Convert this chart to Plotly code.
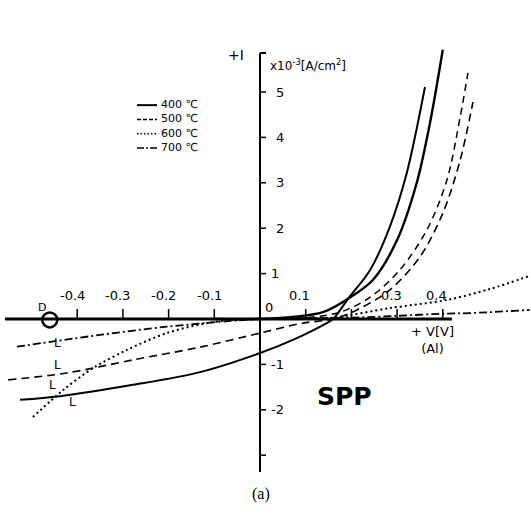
import plotly.graph_objects as go

# ---------------- data (V in volts, I in 1e-3 A/cm^2) ----------------
V_400 = [-0.525, -0.438, -0.278, -0.131, 0.0, 0.072, 0.146, 0.16, 0.193, 0.241, 0.284, 0.321, 0.361]
I_400 = [-1.78, -1.70, -1.45, -1.17, -0.75, -0.46, -0.09, 0.0, 0.45, 1.08, 2.03, 3.21, 5.11]
V_400b = [-0.1, 0.0, 0.066, 0.138, 0.193, 0.247, 0.30, 0.343, 0.372, 0.40]
I_400b = [0.0, 0.0, 0.04, 0.15, 0.45, 0.86, 1.74, 3.0, 4.32, 5.93]

V_500 = [-0.551, -0.423, -0.278, -0.131, 0.0, 0.094, 0.16, 0.212, 0.284, 0.35, 0.40, 0.438, 0.466]
I_500 = [-1.34, -1.19, -0.90, -0.62, -0.31, -0.09, 0.0, 0.2, 0.64, 1.37, 2.33, 3.5, 4.78]
V_500b = [0.0, 0.1, 0.175, 0.241, 0.306, 0.365, 0.409, 0.438, 0.455]
I_500b = [0.0, 0.03, 0.15, 0.48, 1.08, 1.96, 3.06, 4.45, 5.42]

V_600 = [-0.497, -0.43, -0.365, -0.291, -0.204, -0.116, -0.03, 0.08, 0.16, 0.284, 0.409, 0.503, 0.59]
I_600 = [-2.16, -1.56, -1.08, -0.68, -0.31, -0.09, 0.0, 0.0, 0.03, 0.24, 0.42, 0.66, 0.95]

V_700 = [-0.532, -0.35, -0.204, -0.06, 0.0, 0.2, 0.3, 0.41, 0.46, 0.59]
I_700 = [-0.61, -0.35, -0.17, -0.04, 0.0, 0.03, 0.07, 0.12, 0.13, 0.2]

X_TICKS = [-0.4, -0.3, -0.2, -0.1, 0.1, 0.2, 0.3, 0.4]
X_TICK_LABELS = ["-0.4", "-0.3", "-0.2", "-0.1", "0.1", "", "0.3", "0.4"]
Y_TICKS = [5, 4, 3, 2, 1, -1, -2, -3]
Y_TICK_LABELS = ["5", "4", "3", "2", "1", "-1", "-2", ""]
X_AXIS_EXTENT = [-0.558, 0.42]
Y_AXIS_EXTENT = [-3.37, 5.86]

LEGEND_NAMES = ["400 ℃", "500 ℃", "600 ℃", "700 ℃"]

MARK_D = (-0.46, -0.02)
L_MARKS_V = [-0.444, -0.444, -0.453, -0.411]
L_MARKS_I = [-0.53, -1.01, -1.45, -1.83]

# ---------------- figure ----------------
W, H = 531, 520
PX0, PY0, SX, SY = 260, 319, 457.0, 45.4  # pixel position of origin and pixels per unit
FONT = "DejaVu Sans"
INK = "black"

fig = go.Figure()

def curve(v, i, dash, width, name):
    fig.add_trace(go.Scatter(x=v, y=i, mode="lines", name=name, showlegend=False,
                             line=dict(color=INK, dash=dash, width=width, shape="spline", smoothing=0.9),
                             hoverinfo="skip"))

curve(V_400, I_400, "solid", 2.0, "400℃")
curve(V_400b, I_400b, "solid", 2.4, "400℃ (b)")
curve(V_500, I_500, "8px,5px", 1.6, "500℃")
curve(V_500b, I_500b, "7px,5px", 1.5, "500℃ (b)")
curve(V_600, I_600, "2px,3px", 2.0, "600℃")
curve(V_700, I_700, "8px,3px,2px,3px", 1.8, "700℃")

# circle mark on the axis
fig.add_trace(go.Scatter(x=[MARK_D[0]], y=[MARK_D[1]], mode="markers", showlegend=False,
                         marker=dict(symbol="circle-open", size=15, color=INK, line=dict(width=2.5)),
                         hoverinfo="skip"))

shapes = []
# axes lines in data coordinates
shapes.append(dict(type="line", xref="x", yref="y", x0=X_AXIS_EXTENT[0], x1=X_AXIS_EXTENT[1], y0=0, y1=0,
                   line=dict(color=INK, width=3)))
shapes.append(dict(type="line", xref="x", yref="y", x0=0, x1=0, y0=Y_AXIS_EXTENT[0], y1=Y_AXIS_EXTENT[1],
                   line=dict(color=INK, width=2)))
# top bracket of y axis
shapes.append(dict(type="line", xref="x", yref="y", xsizemode="pixel", xanchor=0, x0=0, x1=6,
                   y0=Y_AXIS_EXTENT[1], y1=Y_AXIS_EXTENT[1], line=dict(color=INK, width=2)))
# x ticks (upward)
for t in X_TICKS:
    shapes.append(dict(type="line", xref="x", yref="y", ysizemode="pixel", yanchor=0, y0=0, y1=10,
                       x0=t, x1=t, line=dict(color=INK, width=1.5)))
# y ticks (to the right)
for t in Y_TICKS:
    shapes.append(dict(type="line", xref="x", yref="y", xsizemode="pixel", xanchor=0, x0=0, x1=6,
                       y0=t, y1=t, line=dict(color=INK, width=1.5)))

# manual legend: line samples (paper coords) + one multi-line text block
LEG_TOP, LEG_SIZE = 97, 11
row_h = LEG_SIZE * 1.3
leg_dash = ["solid", "4px,2px", "1.5px,2px", "7px,2px,2px,2px"]
for k, d in enumerate(leg_dash):
    yy = LEG_TOP + row_h * (k + 0.5) + 1
    shapes.append(dict(type="line", xref="paper", yref="paper", x0=137 / W, x1=157 / W,
                       y0=1 - yy / H, y1=1 - yy / H,
                       line=dict(color=INK, width=2 if d == "solid" else 1.5, dash=d)))

txt = dict(family=FONT, color=INK)
ann = []
for t, lab in zip(X_TICKS, X_TICK_LABELS):
    if lab:
        ann.append(dict(x=t, y=0, xref="x", yref="y", text=lab, showarrow=False,
                        xshift=-5 if t < 0 else -6, yshift=24, font=dict(size=13, **txt)))
for t, lab in zip(Y_TICKS, Y_TICK_LABELS):
    if lab:
        ann.append(dict(x=0, y=t, xref="x", yref="y", text=lab, showarrow=False, xanchor="left",
                        xshift=14 if t > 1 else 9, font=dict(size=13, **txt)))
ann.append(dict(x=0, y=0, xref="x", yref="y", text="0", showarrow=False, xshift=9, yshift=12,
                font=dict(size=13, **txt)))
ann.append(dict(x=0, y=Y_AXIS_EXTENT[1], xref="x", yref="y", text="+I", showarrow=False, xanchor="right",
                xshift=-14, yshift=-2, font=dict(size=14, **txt)))
ann.append(dict(x=0, y=Y_AXIS_EXTENT[1], xref="x", yref="y", text="x10<sup>-3</sup>[A/cm<sup>2</sup>]",
                showarrow=False, xanchor="left", xshift=8, yshift=-12, font=dict(size=12, **txt)))
ann.append(dict(x=X_AXIS_EXTENT[1], y=0, xref="x", yref="y", text="+ V[V]<br>(Al)", showarrow=False,
                xanchor="right", yanchor="top", xshift=4, yshift=-3, align="center",
                font=dict(size=13, **txt)))
ann.append(dict(x=(344 - PX0) / SX, y=(PY0 - 396) / SY, xref="x", yref="y", text="<b>SPP</b>", showarrow=False,
                font=dict(size=25, **txt)))
ann.append(dict(x=261 / W, y=1 - 505 / H, xref="paper", yref="paper", text="(a)", showarrow=False,
                font=dict(size=16, family="Liberation Serif", color=INK)))
ann.append(dict(x=MARK_D[0], y=MARK_D[1], xref="x", yref="y", text="D", showarrow=False,
                xshift=-8, yshift=12, font=dict(size=11, **txt)))
for v, i in zip(L_MARKS_V, L_MARKS_I):
    ann.append(dict(x=v, y=i, xref="x", yref="y", text="L", showarrow=False, font=dict(size=12, **txt)))
ann.append(dict(x=160 / W, y=1 - LEG_TOP / H, xref="paper", yref="paper", text="<br>".join(LEGEND_NAMES),
                showarrow=False, xanchor="left", yanchor="top", align="left", borderpad=0,
                font=dict(size=LEG_SIZE, **txt)))

fig.update_layout(
    width=W, height=H, margin=dict(l=0, r=0, t=0, b=0, pad=0),
    paper_bgcolor="white", plot_bgcolor="white",
    xaxis=dict(range=[(0 - PX0) / SX, (W - PX0) / SX], visible=False, fixedrange=True),
    yaxis=dict(range=[(PY0 - H) / SY, PY0 / SY], visible=False, fixedrange=True),
    shapes=shapes, annotations=ann, showlegend=False,
)

fig.write_html("out.html", config={"displayModeBar": False},
               post_script="document.body.style.margin='0';")
